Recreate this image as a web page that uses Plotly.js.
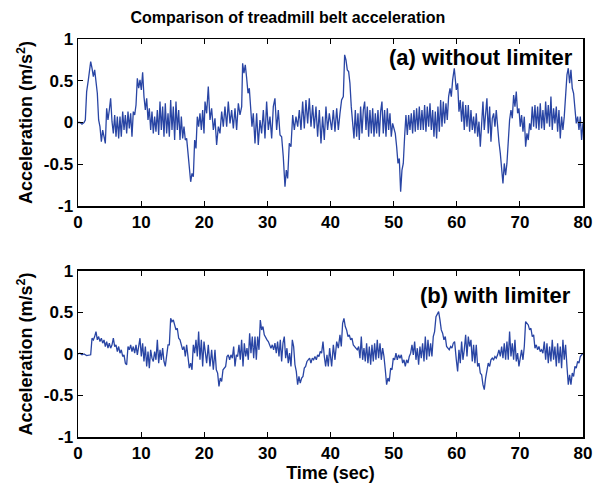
<!DOCTYPE html>
<html>
<head>
<meta charset="utf-8">
<script src="https://cdn.plot.ly/plotly-3.0.1.min.js"></script>
<style>html,body{margin:0;padding:0;background:#fff;}#chart{width:596px;height:485px;}</style>
</head>
<body>
<div id="chart"></div>
<script>
// ---------- data ----------
var tTop = [
0.00,0.32,0.63,0.95,1.16,1.37,1.64,1.80,2.01,2.22,
2.43,2.64,2.85,3.06,3.27,3.48,3.70,3.91,4.12,4.33,
4.54,4.75,4.96,5.17,5.39,5.60,5.81,6.02,6.23,6.44,
6.65,6.86,7.08,7.29,7.50,7.71,7.92,8.13,8.34,8.55,
8.76,8.98,9.19,9.40,9.61,9.82,10.03,10.24,10.45,10.67,
10.88,11.09,11.30,11.51,11.72,11.93,12.14,12.35,12.57,12.78,
12.99,13.20,13.41,13.62,13.83,14.04,14.26,14.47,14.68,14.89,
15.10,15.31,15.52,15.73,15.95,16.16,16.37,16.58,16.79,17.00,
17.21,17.42,17.63,17.85,18.06,18.27,18.48,18.69,18.90,19.11,
19.32,19.54,19.75,19.96,
20.12,20.38,20.64,20.91,21.17,21.44,21.70,21.96,22.23,22.49,
22.76,23.02,23.28,23.55,23.81,24.08,24.34,24.61,24.87,25.13,
25.40,25.66,25.93,26.08,26.29,26.50,26.72,26.93,27.14,27.35,
27.56,27.77,28.04,28.30,28.56,28.83,29.09,29.36,29.62,29.88,
30.15,30.41,30.68,30.94,31.20,31.47,31.73,32.00,32.26,32.52,
32.79,33.00,33.21,33.47,33.74,34.01,34.27,34.53,34.80,35.06,
35.32,35.59,35.85,36.11,36.38,36.64,36.91,37.17,37.43,37.70,
37.96,38.23,38.49,38.75,39.02,39.28,39.54,39.81,
40.18,40.45,40.71,40.98,41.24,41.50,41.76,42.03,42.24,42.45,
42.66,42.87,43.08,43.29,43.51,43.72,43.93,44.14,44.35,44.56,
44.77,44.99,45.20,45.41,45.62,45.83,46.04,46.25,46.47,46.68,
46.89,47.10,47.31,47.52,47.73,47.94,48.15,48.36,48.57,48.79,
49.00,49.21,49.42,49.63,49.84,50.05,50.26,50.48,50.69,50.90,
51.11,51.32,51.53,51.74,51.95,52.17,52.38,52.59,52.80,53.01,
53.22,53.43,53.64,53.86,54.07,54.28,54.49,54.70,54.91,55.12,
55.33,55.55,55.76,55.97,56.18,56.39,56.60,56.81,57.02,57.24,
57.45,57.66,57.87,58.08,58.29,58.50,58.71,58.93,59.14,59.35,
59.61,
59.93,60.14,60.35,60.56,60.77,60.98,61.19,61.41,61.62,61.83,
62.04,62.25,62.46,62.67,62.88,63.09,63.31,63.52,63.73,63.94,
64.15,64.36,64.57,64.78,64.99,65.21,65.42,65.63,65.84,66.05,
66.26,66.47,66.68,66.90,67.11,67.32,67.53,67.74,67.95,68.16,
68.37,68.59,68.80,69.01,69.22,69.43,69.64,69.85,70.06,70.27,
70.49,70.70,70.91,71.12,71.33,71.54,71.75,71.96,72.18,72.39,
72.60,72.81,73.02,73.23,73.44,73.65,73.87,74.08,74.29,74.50,
74.71,74.92,75.13,75.34,75.55,75.77,75.98,76.19,76.40,76.61,
76.82,77.03,77.24,77.46,77.67,77.88,78.09,78.30,78.51,78.72,
78.93,79.15,79.36,79.57,79.78,79.99
];
var accTop = [
0.00,0.00,-0.02,0.00,0.03,0.37,0.51,0.59,0.73,0.65,
0.55,0.63,0.51,0.35,0.03,-0.05,-0.23,-0.09,-0.17,-0.25,
0.17,0.03,0.15,0.29,0.01,-0.13,0.09,-0.17,0.07,-0.19,
0.07,-0.17,0.13,-0.09,0.09,-0.13,0.13,-0.07,0.11,-0.17,
0.13,0.09,0.21,0.53,0.41,0.51,0.39,0.60,0.31,0.15,
0.29,0.03,0.17,-0.09,0.13,-0.13,0.07,-0.11,0.15,-0.15,
0.25,-0.09,0.19,-0.17,0.23,-0.13,0.11,-0.17,0.27,-0.09,
0.19,-0.21,0.25,-0.09,0.15,-0.21,0.07,-0.19,-0.05,-0.21,
-0.19,-0.37,-0.59,-0.71,-0.61,-0.65,-0.21,-0.31,0.07,-0.05,
0.11,-0.09,0.15,-0.13,
0.25,0.11,0.43,0.03,0.17,-0.09,0.05,-0.27,-0.05,-0.13,
0.13,-0.05,0.19,-0.05,0.25,-0.01,0.15,-0.07,0.17,-0.09,
0.23,0.09,0.19,0.71,0.59,0.69,0.53,0.35,0.41,0.19,
-0.05,0.11,-0.25,0.11,-0.27,0.03,-0.13,0.15,-0.19,0.25,
-0.09,0.07,-0.19,0.19,0.29,-0.09,0.15,-0.15,-0.17,-0.41,
-0.77,-0.57,-0.67,-0.25,-0.29,0.09,-0.09,0.07,-0.05,0.15,
-0.09,0.25,-0.07,0.27,-0.01,0.29,-0.05,0.21,-0.07,0.19,
-0.17,0.15,-0.25,0.07,-0.21,0.19,-0.09,0.11,
-0.09,0.15,-0.11,0.17,-0.09,0.11,0.27,0.31,0.81,0.75,
0.63,0.61,0.47,0.19,0.03,-0.19,0.15,-0.17,0.11,-0.21,
0.19,-0.13,0.15,0.25,-0.09,0.19,-0.17,0.15,-0.13,0.17,
-0.17,0.11,-0.13,0.15,-0.17,0.13,0.25,-0.13,0.15,-0.17,
0.17,-0.09,0.11,-0.17,-0.01,-0.09,-0.13,-0.29,-0.49,-0.43,
-0.83,-0.57,-0.49,-0.17,0.09,-0.15,0.09,-0.09,0.11,-0.13,
0.15,-0.11,0.17,-0.09,0.19,-0.09,0.15,-0.09,0.21,-0.11,
0.19,-0.05,0.23,-0.09,0.15,-0.17,0.13,-0.19,0.19,-0.11,
0.27,-0.05,0.25,-0.01,0.23,0.03,0.31,0.41,0.31,0.51,
0.65,
0.39,0.47,0.13,0.27,0.01,0.25,-0.09,0.21,-0.05,0.21,
-0.11,0.15,-0.09,0.07,-0.13,0.11,-0.17,0.01,-0.29,0.03,
0.25,-0.09,0.15,0.29,-0.13,0.19,-0.23,0.05,0.11,-0.05,
0.15,-0.09,-0.23,-0.37,-0.53,-0.73,-0.49,-0.63,-0.49,-0.17,
0.03,0.15,0.05,0.33,0.19,0.37,0.11,0.17,-0.05,0.09,
-0.11,0.07,-0.29,-0.13,-0.21,-0.01,-0.09,0.19,-0.05,0.21,
-0.07,0.19,-0.09,0.23,-0.07,0.15,-0.09,0.25,-0.01,0.21,
-0.05,0.31,-0.09,0.17,-0.01,0.19,-0.11,0.15,-0.19,0.07,
-0.09,0.07,0.35,0.57,0.65,0.47,0.63,0.41,0.35,0.19,
-0.01,0.07,-0.09,0.07,-0.21,-0.01
];
var tBottom = [
0.00,0.32,0.63,0.95,1.37,1.80,2.01,2.22,2.43,2.64,
2.85,3.06,3.27,3.48,3.70,3.91,4.12,4.33,4.54,4.75,
4.96,5.17,5.39,5.60,5.81,6.02,6.23,6.44,6.65,6.86,
7.08,7.29,7.50,7.71,7.92,8.13,8.34,8.55,8.76,8.98,
9.19,9.40,9.61,9.82,10.03,10.24,10.45,10.67,10.88,11.09,
11.30,11.51,11.72,11.93,12.14,12.35,12.57,12.78,12.99,13.20,
13.41,13.62,13.83,14.04,14.26,14.47,14.68,14.89,15.10,15.31,
15.52,15.73,15.95,16.16,16.37,16.58,16.79,17.00,17.21,17.42,
17.63,17.85,18.06,18.27,18.48,18.69,18.90,19.11,19.32,19.54,
19.75,19.96,
20.38,20.64,20.91,21.17,21.44,21.70,21.91,22.12,22.33,22.54,
22.76,22.97,23.18,23.39,23.60,23.81,24.02,24.23,24.45,24.66,
24.87,25.08,25.29,25.50,25.71,25.92,26.14,26.35,26.56,26.77,
26.98,27.19,27.40,27.61,27.83,28.04,28.25,28.46,28.67,28.88,
29.09,29.30,29.51,29.73,29.94,30.15,30.36,30.57,30.78,30.99,
31.20,31.41,31.62,31.84,32.05,32.26,32.47,32.68,32.89,33.10,
33.31,33.52,33.74,33.95,34.16,34.37,34.58,34.79,35.00,35.21,
35.43,35.64,35.85,36.06,36.27,36.48,36.69,36.90,37.12,37.33,
37.54,37.75,37.96,38.17,38.38,38.59,38.81,39.02,39.23,39.44,
39.65,39.86,
40.18,40.45,40.71,40.98,41.24,41.50,41.71,41.92,42.13,42.34,
42.55,42.77,42.98,43.19,43.40,43.61,43.82,44.03,44.24,44.46,
44.67,44.88,45.09,45.30,45.51,45.72,45.93,46.15,46.36,46.57,
46.78,46.99,47.20,47.41,47.62,47.84,48.05,48.26,48.47,48.68,
48.89,49.10,49.31,49.53,49.74,49.95,50.16,50.37,50.58,50.79,
51.00,51.22,51.43,51.64,51.85,52.06,52.27,52.48,52.70,52.91,
53.12,53.33,53.54,53.75,53.96,54.17,54.38,54.59,54.81,55.02,
55.23,55.44,55.65,55.86,56.07,56.28,56.49,56.71,56.92,57.13,
57.34,57.55,57.76,57.97,58.18,58.39,58.60,58.81,59.03,59.24,
59.45,59.66,
59.93,60.14,60.35,60.56,60.77,60.98,61.19,61.41,61.62,61.83,
62.04,62.25,62.46,62.67,62.88,63.09,63.31,63.52,63.73,63.94,
64.15,64.36,64.57,64.78,64.99,65.21,65.42,65.63,65.84,66.05,
66.26,66.47,66.68,66.90,67.11,67.32,67.53,67.74,67.95,68.16,
68.37,68.59,68.80,69.01,69.22,69.43,69.64,69.85,70.06,70.27,
70.49,70.70,70.91,71.12,71.33,71.54,71.75,71.96,72.18,72.39,
72.60,72.81,73.02,73.23,73.44,73.65,73.87,74.08,74.29,74.50,
74.71,74.92,75.13,75.34,75.55,75.77,75.98,76.19,76.40,76.61,
76.82,77.03,77.24,77.46,77.67,77.88,78.09,78.30,78.51,78.72,
78.93,79.15,79.36,79.57,79.78,79.99
];
var accBottom = [
0.00,0.01,-0.01,0.00,-0.02,-0.01,-0.01,0.19,0.17,0.21,
0.27,0.17,0.21,0.15,0.19,0.13,0.17,0.09,0.15,0.07,
0.13,0.07,0.11,0.19,0.09,0.11,0.03,0.09,0.01,0.05,
-0.03,-0.01,-0.11,-0.13,0.09,0.05,0.11,0.03,0.09,0.01,
0.11,-0.01,0.07,0.19,-0.03,0.13,-0.09,0.09,-0.15,0.03,
-0.17,0.05,-0.05,-0.09,0.03,-0.07,0.17,-0.11,0.05,-0.07,
0.07,-0.09,-0.15,-0.03,0.11,0.11,0.43,0.39,0.41,0.35,
0.29,0.31,0.19,0.17,0.11,0.05,0.09,-0.03,0.11,-0.07,
-0.17,-0.11,-0.19,0.11,0.01,0.17,-0.03,0.27,-0.07,0.17,
-0.15,0.15,
-0.11,0.11,-0.15,0.05,-0.19,0.05,-0.19,-0.23,-0.39,-0.29,
-0.33,-0.19,-0.17,-0.15,-0.03,-0.01,-0.07,-0.01,-0.05,0.09,
-0.15,-0.01,-0.03,0.11,-0.07,0.17,-0.15,0.13,-0.03,0.07,
-0.07,0.25,0.01,0.21,-0.05,0.21,-0.07,0.21,0.05,0.41,
0.29,0.33,0.23,0.19,0.17,0.15,0.11,0.07,0.11,0.05,
0.13,0.01,0.15,-0.03,0.17,-0.09,0.13,0.21,-0.05,0.07,
-0.11,0.01,-0.15,0.17,0.09,-0.13,-0.21,-0.37,-0.27,-0.35,
-0.29,-0.27,-0.17,-0.15,-0.09,-0.07,-0.05,-0.11,-0.05,-0.07,
-0.03,-0.07,-0.01,-0.03,0.03,0.01,0.15,-0.03,-0.15,-0.01,
-0.15,0.07,
-0.15,0.11,-0.07,0.15,0.07,0.23,0.09,0.37,0.43,0.33,
0.29,0.21,0.23,0.17,0.19,0.11,0.09,0.07,0.05,0.09,
-0.05,0.21,-0.07,0.07,-0.09,0.13,-0.11,0.09,-0.13,0.11,
-0.09,0.13,-0.07,0.17,-0.05,0.13,-0.07,0.07,-0.03,-0.19,
-0.37,-0.29,-0.33,-0.17,-0.19,-0.05,-0.07,0.01,-0.07,-0.01,
-0.05,-0.01,-0.11,-0.07,-0.15,-0.07,-0.11,-0.03,0.01,0.11,
-0.01,0.15,-0.07,0.07,-0.13,0.09,-0.05,0.13,-0.09,0.21,
-0.07,0.17,-0.03,0.13,-0.03,0.21,0.27,0.45,0.49,0.51,
0.41,0.29,0.25,0.17,0.21,0.09,0.07,0.05,0.09,0.07,
0.13,0.15,
-0.07,-0.21,0.05,-0.11,0.15,-0.07,0.05,0.23,-0.03,0.21,
0.09,0.17,-0.09,0.11,-0.11,0.11,-0.15,-0.11,-0.23,-0.25,
-0.37,-0.43,-0.29,-0.19,-0.11,-0.15,-0.07,-0.05,-0.07,-0.03,
-0.05,-0.01,0.05,-0.03,0.09,-0.05,0.13,-0.07,0.15,-0.07,
0.27,-0.03,0.13,-0.07,0.17,-0.09,0.01,-0.15,-0.07,0.05,
-0.07,0.09,0.39,0.37,0.35,0.29,0.31,0.21,0.23,0.07,
0.11,0.05,0.09,0.03,0.05,0.01,0.15,-0.07,0.13,-0.11,
0.09,-0.09,0.17,-0.07,0.09,-0.15,0.13,-0.11,0.09,-0.17,
0.17,-0.07,0.11,-0.15,-0.37,-0.25,-0.37,-0.23,-0.27,-0.15,
-0.17,-0.09,-0.11,-0.03,-0.01,0.01
];
var xTickVals = [0,10,20,30,40,50,60,70,80];
var xTickText = ['0','10','20','30','40','50','60','70','80'];
var yTickVals = [-1,-0.5,0,0.5,1];
var yTickText = ['-1','-0.5','0','0.5','1'];
var chartTitle = 'Comparison of treadmill belt acceleration';
var panelLabels = ['(a) without limiter', '(b) with limiter'];
var yTitle = 'Acceleration (m/s<sup>2</sup>)';
var xTitle = 'Time (sec)';

// ---------- styling ----------
var FONT = 'Liberation Sans, Arial, Helvetica, sans-serif';
var lineColor = '#2945a4';

function xAxis(anchor, withTitle) {
  var a = {
    anchor: anchor, domain: [0, 1], range: [0, 80],
    tickmode: 'array', tickvals: xTickVals, ticktext: xTickText,
    ticks: 'inside', ticklen: 5, tickwidth: 1, tickcolor: '#000',
    showline: true, linecolor: '#000', linewidth: 1.5, mirror: 'ticks',
    showgrid: false, zeroline: false,
    tickfont: {family: FONT, size: 17, color: '#000', weight: 'bold'}
  };
  if (withTitle) a.title = {text: xTitle, font: {family: FONT, size: 18, color: '#000', weight: 'bold'}, standoff: 4};
  return a;
}
function yAxis(anchor, domain) {
  return {
    anchor: anchor, domain: domain, range: [-1, 1],
    tickmode: 'array', tickvals: yTickVals, ticktext: yTickText,
    ticks: 'inside', ticklen: 5, tickwidth: 1, tickcolor: '#000',
    showline: true, linecolor: '#000', linewidth: 1.5, mirror: 'ticks',
    showgrid: false, zeroline: false,
    tickfont: {family: FONT, size: 17, color: '#000', weight: 'bold'},
    title: {text: yTitle, font: {family: FONT, size: 18, color: '#000', weight: 'bold'}, standoff: 6}
  };
}

var traces = [
  {x: tTop, y: accTop, xaxis: 'x', yaxis: 'y', type: 'scatter', mode: 'lines',
   line: {color: lineColor, width: 1.3}, hoverinfo: 'skip'},
  {x: tBottom, y: accBottom, xaxis: 'x2', yaxis: 'y2', type: 'scatter', mode: 'lines',
   line: {color: lineColor, width: 1.3}, hoverinfo: 'skip'}
];

var layout = {
  width: 596, height: 485,
  margin: {l: 78, r: 13, t: 39, b: 48},
  paper_bgcolor: '#fff', plot_bgcolor: '#fff',
  showlegend: false,
  font: {family: FONT, color: '#000'},
  title: {text: chartTitle, font: {family: FONT, size: 16, color: '#000', weight: 'bold'},
          x: 0.483, xref: 'container', xanchor: 'center', y: 0.965, yref: 'container', yanchor: 'middle'},
  xaxis: xAxis('y', false),
  yaxis: yAxis('x', [0.5804, 1]),
  xaxis2: xAxis('y2', true),
  yaxis2: yAxis('x2', [0, 0.4171]),
  annotations: [
    {text: panelLabels[0], xref: 'x domain', yref: 'y domain', x: 0.984, y: 0.892,
     xanchor: 'right', yanchor: 'middle', showarrow: false,
     font: {family: FONT, size: 22, color: '#000', weight: 'bold'}},
    {text: panelLabels[1], xref: 'x2 domain', yref: 'y2 domain', x: 0.98, y: 0.855,
     xanchor: 'right', yanchor: 'middle', showarrow: false,
     font: {family: FONT, size: 22, color: '#000', weight: 'bold'}}
  ]
};

Plotly.newPlot('chart', traces, layout, {staticPlot: true, displayModeBar: false});
</script>
</body>
</html>
